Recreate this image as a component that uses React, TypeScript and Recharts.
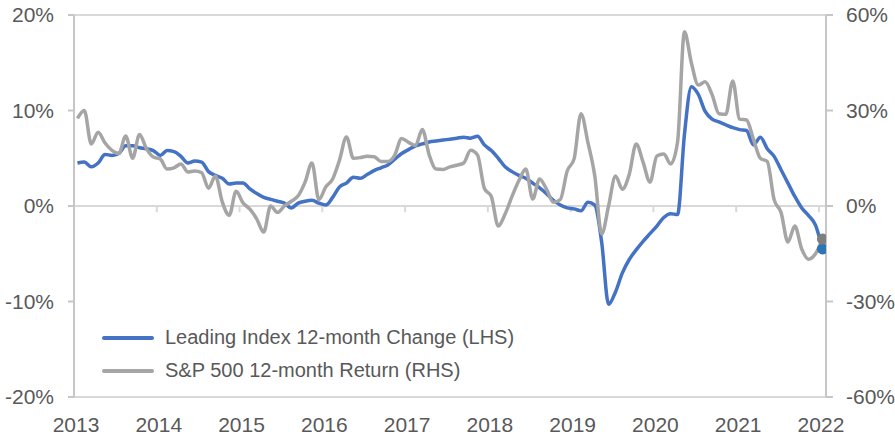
import React from "react";
import { ComposedChart, Line, XAxis, YAxis, ReferenceLine, Legend } from "recharts";

// monthly values, Jan 2013 .. Jan 2022
const startYear = 2013;
const yearTicks = [2013, 2014, 2015, 2016, 2017, 2018, 2019, 2020, 2021, 2022];
const leftTicks = [-20, -10, 0, 10, 20];
const rightTicks = [-60, -30, 0, 30, 60];

// Leading Index 12-month change (%), LHS
const leadingIndex = [
  4.5, 4.6, 4.1, 4.5, 5.4, 5.3, 5.5, 6.3, 6.3, 6.1, 6.0, 5.8,
  5.3, 5.8, 5.7, 5.2, 4.5, 4.7, 4.6, 3.6, 3.2, 2.9, 2.3, 2.4,
  2.4, 1.8, 1.3, 0.9, 0.7, 0.5, 0.3, -0.2, 0.3, 0.5, 0.6, 0.3,
  0.1, 0.9, 2.0, 2.4, 3.0, 2.9, 3.3, 3.7, 4.0, 4.3, 4.9, 5.5,
  5.9, 6.3, 6.5, 6.7, 6.8, 6.9, 7.0, 7.1, 7.2, 7.1, 7.3, 6.4,
  5.8, 5.0, 4.1, 3.6, 3.2, 2.9, 2.4, 1.9, 1.3, 0.6, 0.1, -0.2,
  -0.3, -0.5, 0.4, 0.1, -3.8, -10.3, -9.0, -7.0, -5.6, -4.6, -3.7, -2.9,
  -2.1, -1.2, -0.8, -0.9, 7.5, 12.5, 11.7, 9.9, 9.1, 8.8, 8.5, 8.2,
  8.0, 7.9, 6.4, 7.2, 6.0, 5.2, 3.8, 2.4, 1.0, -0.2, -1.0, -2.0,
  -4.5,
];

// S&P 500 12-month return (%), RHS
const sp500Return = [
  27.5, 30.0, 19.5, 23.2, 19.8, 17.5, 16.5, 22.0, 15.0, 22.5, 18.0, 15.4,
  14.8, 11.6, 12.0, 13.2, 10.7, 11.0, 10.5, 5.6, 9.4, 1.2, -2.9, 4.6,
  1.0, -1.0, -4.1, -8.2, 0.0, -2.0, 0.0, 1.5, 3.2, 7.5, 13.5, 2.0,
  6.0, 8.5, 14.5, 21.7, 15.0, 15.2, 15.6, 15.5, 14.0, 14.0, 16.0, 21.2,
  20.0, 19.0, 24.0, 16.0, 11.6, 11.5, 12.3, 12.8, 13.5, 17.5, 16.0, 5.5,
  3.0, -6.3, -2.5, 3.0, 8.0, 11.6, 2.2, 8.5, 5.3, 1.2, 2.0, 11.0,
  14.8, 29.0, 20.0, 9.4, -8.8, 0.0, 9.4, 5.3, 10.0, 19.5, 13.8, 7.5,
  15.7, 16.3, 13.2, 20.1, 54.7, 45.0, 38.0, 39.0, 35.0, 29.0, 28.8, 39.3,
  27.3, 27.0, 21.0, 15.0, 14.0, 2.0, -2.0, -11.3, -6.3, -13.5, -16.7, -15.0,
  -10.4,
];

const seriesNames = {
  leading: "Leading Index 12-month Change (LHS)",
  sp500: "S&P 500 12-month Return (RHS)",
};

// points sit mid-month on a date axis
const data = leadingIndex.map((v, i) => ({
  t: startYear + (i + 0.5) / 12,
  leading: v,
  sp500: sp500Return[i],
}));
const lastIndex = data.length - 1;

const textColor = "#595959";
const axisColor = "#C6C6C6";
const gridColor = "#D9D9D9";

const endDot = (color: string) => (props: any) => {
  const { cx, cy, index } = props;
  if (index !== lastIndex) return <g key={`d${index}`} />;
  return <circle key={`d${index}`} cx={cx} cy={cy} r={5.5} fill={color} stroke="none" />;
};

const LegendBox = (props: any) => {
  const items = props.payload || [];
  return (
    <div style={{ display: "flex", flexDirection: "column" }}>
      {items.map((it: any) => (
        <div key={it.value} style={{ display: "flex", alignItems: "center", height: 33 }}>
          <span
            style={{
              display: "inline-block",
              width: 52,
              height: 4,
              borderRadius: 2,
              background: it.color,
              marginRight: 11,
            }}
          />
          <span style={{ fontSize: 20, color: textColor, whiteSpace: "nowrap" }}>{it.value}</span>
        </div>
      ))}
    </div>
  );
};

const LeadingIndexChart = () => {
  return (
    <div style={{ position: "absolute", left: 0, top: 0, fontFamily: "'Liberation Sans', Arial, sans-serif" }}>
      <ComposedChart width={895} height={438} data={data} margin={{ top: 15, right: 0, bottom: 0, left: 0 }}>
        <XAxis
          dataKey="t"
          type="number"
          domain={[2013, 2022.085]}
          ticks={yearTicks}
          tickFormatter={(v: number) => String(Math.round(v))}
          axisLine={false}
          tickLine={false}
          tickSize={0}
          tickMargin={20}
          height={41}
          tick={{ fontSize: 21, fill: textColor, dx: 2 }}
          allowDataOverflow
        />
        <YAxis
          yAxisId="left"
          domain={[-20, 20]}
          ticks={leftTicks}
          tickFormatter={(v: number) => `${v}%`}
          width={74}
          axisLine={{ stroke: axisColor, strokeWidth: 2 }}
          tickLine={{ stroke: axisColor, strokeWidth: 2 }}
          tickSize={6}
          tickMargin={14}
          tick={{ fontSize: 21, fill: textColor }}
        />
        <YAxis
          yAxisId="right"
          orientation="right"
          domain={[-60, 60]}
          ticks={rightTicks}
          tickFormatter={(v: number) => `${v}%`}
          width={69}
          axisLine={{ stroke: axisColor, strokeWidth: 2 }}
          tickLine={{ stroke: axisColor, strokeWidth: 2 }}
          tickSize={7}
          tickMargin={13}
          tick={{ fontSize: 21, fill: textColor }}
        />
        <ReferenceLine yAxisId="left" y={20} stroke={gridColor} strokeWidth={2} />
        <ReferenceLine yAxisId="left" y={-20} stroke={gridColor} strokeWidth={2} />
        <ReferenceLine yAxisId="left" y={0} stroke={gridColor} strokeWidth={2} />
        {yearTicks.slice(1).map((yr) => (
          <ReferenceLine
            key={yr}
            yAxisId="left"
            segment={[{ x: yr, y: 0 }, { x: yr, y: -0.65 }]}
            stroke={gridColor}
            strokeWidth={2}
          />
        ))}
        <Legend
          layout="vertical"
          align="center"
          verticalAlign="middle"
          content={<LegendBox />}
          wrapperStyle={{ left: 102, top: 321, width: 460 }}
        />
        <Line
          yAxisId="left"
          type="monotoneX"
          dataKey="leading"
          name={seriesNames.leading}
          stroke="#4472C4"
          strokeWidth={3.5}
          dot={endDot("#2E75B6")}
          activeDot={false}
          isAnimationActive={false}
        />
        <Line
          yAxisId="right"
          type="monotoneX"
          dataKey="sp500"
          name={seriesNames.sp500}
          stroke="#A5A5A5"
          strokeWidth={3.5}
          dot={endDot("#7F7F7F")}
          activeDot={false}
          isAnimationActive={false}
        />
      </ComposedChart>
    </div>
  );
};

export default LeadingIndexChart;
